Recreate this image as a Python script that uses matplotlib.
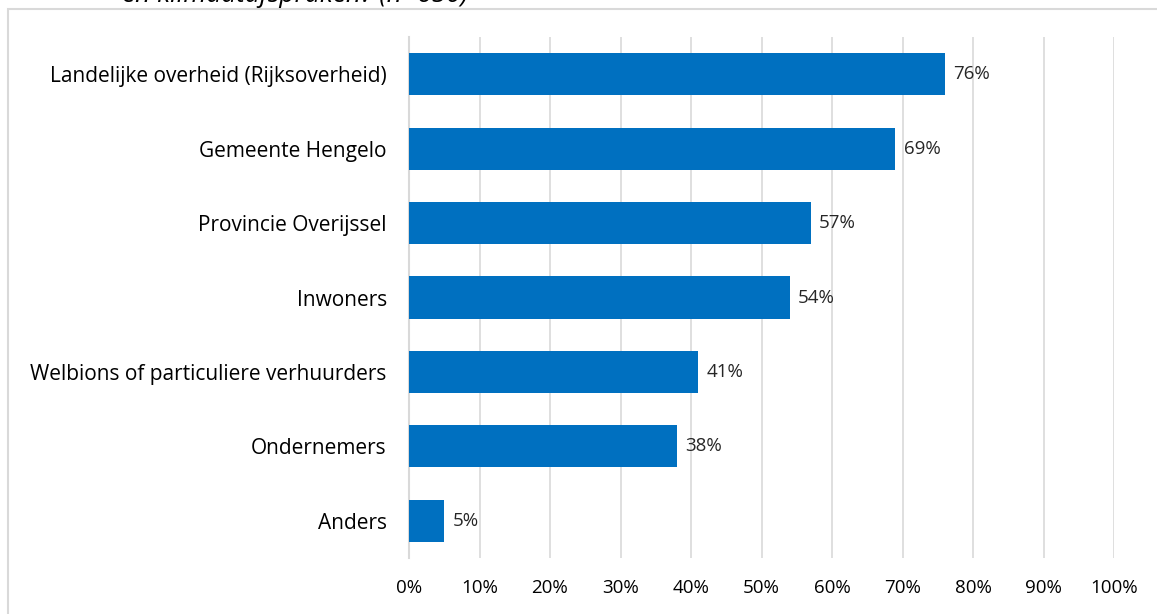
import matplotlib
matplotlib.use("Agg")
import matplotlib.pyplot as plt
from matplotlib.patches import Rectangle

categories = ["Landelijke overheid (Rijksoverheid)", "Gemeente Hengelo", "Provincie Overijssel",
              "Inwoners", "Welbions of particuliere verhuurders", "Ondernemers", "Anders"]
values = [76, 69, 57, 54, 41, 38, 5]
xticks = [0, 10, 20, 30, 40, 50, 60, 70, 80, 90, 100]
xtick_labels = [f"{v}%" for v in xticks]
title_text = "en klimaatafspraken? (n=650)"

plt.rcParams['font.family'] = ['Open Sans', 'DejaVu Sans']
fig = plt.figure(figsize=(11.57, 6.14), dpi=100)
fig.patches.append(Rectangle((8/1157, -0.1), 1.2, 1.1 - 9/614, transform=fig.transFigure,
                             fill=False, edgecolor='#d9d9d9', linewidth=1.5))
fig.text(122/1157, 1 - 1.5/614, title_text, ha='left', va='baseline', fontsize=19,
         style='italic', color='#000000')

ax = fig.add_axes([409/1157, 1 - 558/614, (1114 - 409)/1157, (558 - 37)/614])
pos = list(range(len(categories)))
ax.barh(pos, values, height=0.565, color='#0070C0', zorder=3)
ax.set_ylim(len(categories) - 0.5, -0.5)
ax.set_xlim(0, 100)
ax.set_yticks(pos)
ax.set_yticklabels(categories, fontsize=15)
ax.set_xticks(xticks)
ax.set_xticklabels(xtick_labels, fontsize=13.5)
ax.tick_params(axis='both', length=0, colors='#000000')
ax.tick_params(axis='y', pad=16)
ax.tick_params(axis='x', pad=15)
ax.grid(axis='x', color='#d9d9d9', linewidth=1.2, zorder=0)
for s in ['top', 'right', 'bottom']:
    ax.spines[s].set_visible(False)
ax.spines['left'].set_color('#d9d9d9')
ax.spines['left'].set_linewidth(1.5)
for p, v in zip(pos, values):
    ax.annotate(f"{v}%", (v, p), xytext=(6, 0), textcoords='offset points',
                ha='left', va='center', fontsize=13.5, color='#262626')

fig.savefig("out.png", dpi=100)
